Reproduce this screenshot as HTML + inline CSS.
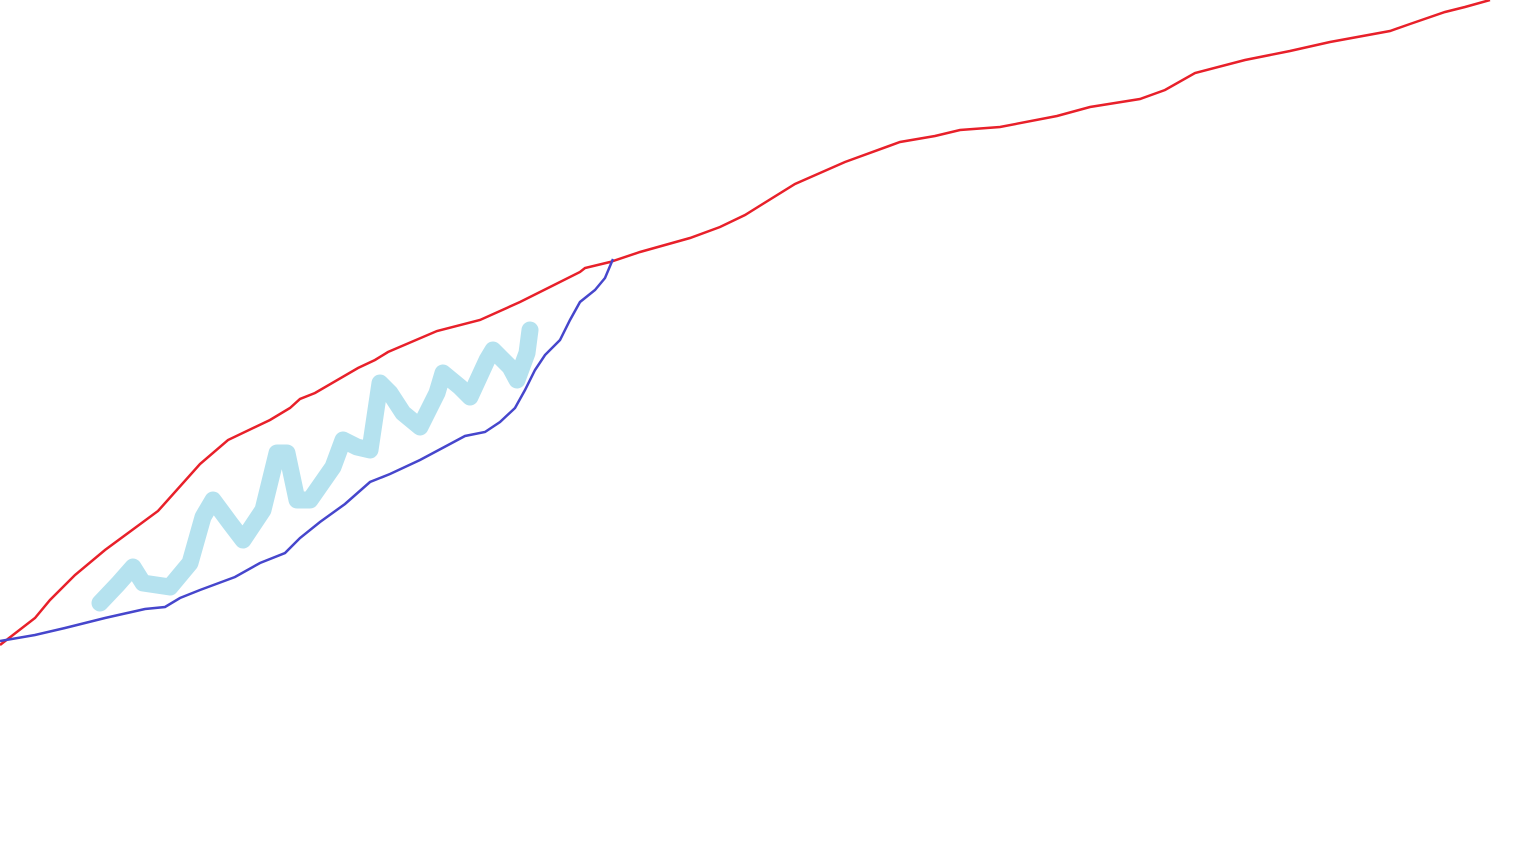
<!DOCTYPE html>
<html>
<head>
<meta charset="utf-8">
<style>
html,body{margin:0;padding:0;background:#fff;}
svg{display:block;}
</style>
</head>
<body>
<svg id="chart" width="1536" height="864" viewBox="0 0 1536 864" xmlns="http://www.w3.org/2000/svg">
<rect width="1536" height="864" fill="#ffffff"/>
<g id="plot"></g>
</svg>
<script>
const redX=[0,35,50,75,105,158,200,228,270,290,300,315,358,375,388,437,480,520,550,580,585,610,640,690,720,745,795,845,900,935,960,1000,1057,1090,1140,1165,1195,1245,1290,1330,1390,1410,1445,1465,1490];
const redY=[219,246,264,289,314,353,400,424,444,456,465,471,496,504,512,533,544,562,577,592,596,602,612,626,637,649,680,702,722,728,734,737,748,757,765,774,791,804,813,822,833,840,852,857,864];
const blueX=[0,35,65,105,145,165,180,200,235,260,285,300,320,345,370,390,420,450,465,485,500,515,525,535,545,560,570,580,595,605,613];
const blueY=[223,229,236,246,255,257,266,274,287,301,311,326,342,360,382,390,404,420,428,432,442,456,474,494,509,524,544,562,574,586,605];
const bandX=[100,118,133,143,170,190,203,213,230,243,263,277,287,297,310,333,343,357,370,380,390,403,420,437,443,460,470,487,493,510,517,527,530];
const bandY=[261,280,297,281,277,301,347,364,341,324,354,411,411,364,364,397,424,417,414,481,471,451,437,471,491,477,467,504,514,497,484,511,534];

const W=1536,H=864;
const xScale=v=>v/1536*W;
const yScale=v=>H-v/864*H;
const NS='http://www.w3.org/2000/svg';
const plot=document.getElementById('plot');
function pts(xs,ys){return xs.map((x,i)=>xScale(x).toFixed(1)+','+yScale(ys[i]).toFixed(1)).join(' ');}

const band=document.createElementNS(NS,'polyline');


band.setAttribute('points',pts(bandX,bandY));
band.setAttribute('fill','none');
band.setAttribute('stroke','#b5e2ef');
band.setAttribute('stroke-width','17');
band.setAttribute('stroke-linejoin','round');
band.setAttribute('stroke-linecap','round');
plot.appendChild(band);

const red=document.createElementNS(NS,'polyline');


red.setAttribute('points',pts(redX,redY));
red.setAttribute('fill','none');
red.setAttribute('stroke','#e8202a');
red.setAttribute('stroke-width','2.5');
plot.appendChild(red);

const blue=document.createElementNS(NS,'polyline');


blue.setAttribute('points',pts(blueX,blueY));
blue.setAttribute('fill','none');
blue.setAttribute('stroke','#4646cc');
blue.setAttribute('stroke-width','2.5');
plot.appendChild(blue);
</script>
</body>
</html>
